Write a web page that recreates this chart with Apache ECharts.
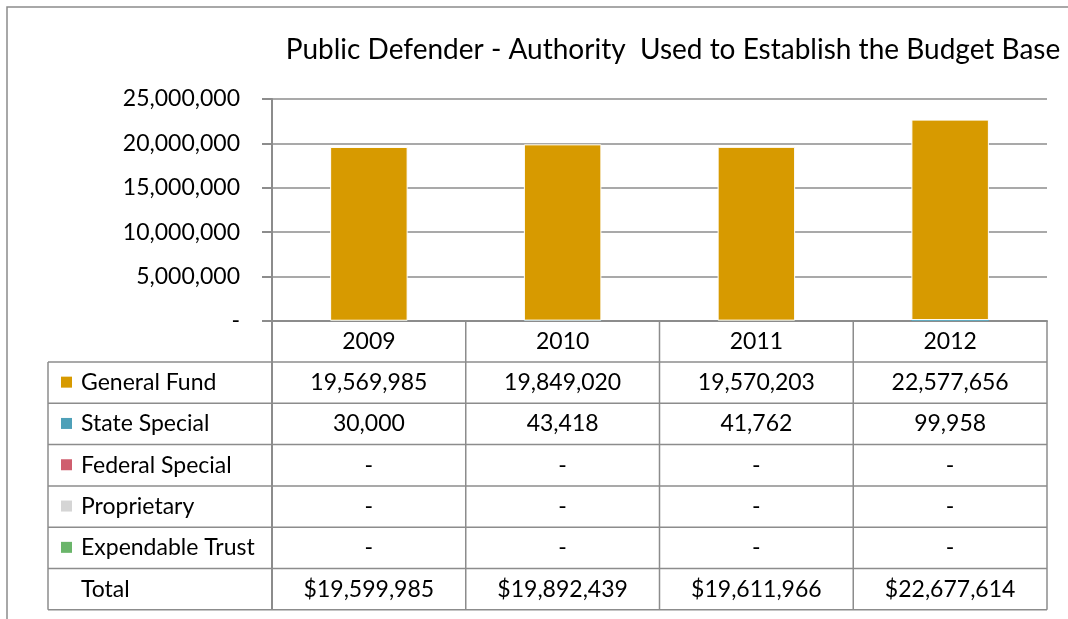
<!DOCTYPE html>
<html>
<head>
<meta charset="utf-8">
<title>Public Defender - Authority Used to Establish the Budget Base</title>
<script src="https://cdn.jsdelivr.net/npm/echarts@6/dist/echarts.min.js"></script>
<style>
  html, body { margin: 0; padding: 0; background: #ffffff; }
  #chart { width: 1068px; height: 619px; }
</style>
</head>
<body>
<div id="chart"></div>
<script>
// Fiscal years and funding sources
const categories = ['2009', '2010', '2011', '2012'];
const generalFund = [19569985, 19849020, 19570203, 22577656];
const stateSpecial = [30000, 43418, 41762, 99958];
const federalSpecial = [0, 0, 0, 0];
const proprietary = [0, 0, 0, 0];
const expendableTrust = [0, 0, 0, 0];
const totals = [19599985, 19892439, 19611966, 22677614];
const yTickValues = [0, 5000000, 10000000, 15000000, 20000000, 25000000];

const titleText = 'Public Defender - Authority  Used to Establish the Budget Base';
const FONT = 'Lato, "Open Sans", sans-serif';
const LINE = '#8c8c8c';
const TEXT_SIZE = 23;

const sources = [
  { name: 'General Fund', color: '#d79a00', values: generalFund },
  { name: 'State Special', color: '#4ea0b8', values: stateSpecial },
  { name: 'Federal Special', color: '#cf5e6e', values: federalSpecial },
  { name: 'Proprietary', color: '#d5d5d5', values: proprietary },
  { name: 'Expendable Trust', color: '#6ab56a', values: expendableTrust }
];

function withCommas(v) {
  const s = String(Math.round(Math.abs(v)));
  return s.replace(/\B(?=(\d{3})+(?!\d))/g, ',');
}
function cellText(v, prefix) {
  return v === 0 ? '-' : (prefix || '') + withCommas(v);
}

const chart = echarts.init(document.getElementById('chart'), null, { renderer: 'canvas' });

// State Special sits at the base of each column, General Fund above it
const stackOrder = [sources[1], sources[0], sources[2], sources[3], sources[4]];

chart.setOption({
  backgroundColor: '#ffffff',
  animation: false,
  grid: { left: 272, right: 21, top: 99, bottom: 298, containLabel: false },
  xAxis: {
    type: 'category',
    data: categories,
    axisLine: { show: true, lineStyle: { color: LINE, width: 2 } },
    axisTick: { show: false },
    axisLabel: {
      margin: 21,
      verticalAlign: 'middle',
      fontFamily: FONT,
      fontSize: TEXT_SIZE,
      color: '#000000'
    }
  },
  yAxis: {
    type: 'value',
    min: yTickValues[0],
    max: yTickValues[yTickValues.length - 1],
    interval: yTickValues[1] - yTickValues[0],
    axisLine: { show: true, lineStyle: { color: LINE, width: 2 } },
    axisTick: { show: true, length: 10, lineStyle: { color: LINE, width: 2 } },
    splitLine: { show: true, lineStyle: { color: LINE, width: 1.5 } },
    axisLabel: {
      margin: 32,
      fontFamily: FONT,
      fontSize: TEXT_SIZE,
      color: '#000000',
      formatter: v => cellText(v)
    }
  },
  series: stackOrder.map(s => ({
    name: s.name,
    type: 'bar',
    stack: 'budget',
    barWidth: '40%',
    data: s.values,
    itemStyle: {
      color: s.color,
      borderColor: '#ffffff',
      borderWidth: s.name === 'General Fund' ? 1 : 0
    }
  }))
});

// Data table under the plot, laid out from the category axis positions
const colCenters = categories.map(c => chart.convertToPixel({ xAxisIndex: 0 }, c));
const colW = colCenters[1] - colCenters[0];
const colLeft = colCenters[0] - colW / 2;
const colRight = colCenters[colCenters.length - 1] + colW / 2;
const tableTop = chart.convertToPixel({ yAxisIndex: 0 }, 0);
const headerH = 41;
const rowH = 41.3;
const labelLeft = 48;

const rows = sources.map(s => ({ name: s.name, color: s.color, values: s.values, prefix: '' }));
rows.push({ name: 'Total', color: null, values: totals, prefix: '$' });

const firstRowTop = tableTop + headerH;
const tableBottom = firstRowTop + rows.length * rowH;
const graphics = [];

// outer frame
graphics.push({
  type: 'rect', silent: true,
  shape: { x: 7, y: 7, width: 1100, height: 700 },
  style: { fill: 'none', stroke: LINE, lineWidth: 1.5 }
});

// chart title
graphics.push({
  type: 'text', silent: true,
  x: 673, y: 50,
  style: {
    text: titleText, fill: '#000000',
    font: '28px ' + FONT,
    textAlign: 'center', textVerticalAlign: 'middle'
  }
});

// horizontal rules
for (let i = 0; i <= rows.length; i++) {
  const y = firstRowTop + i * rowH;
  graphics.push({
    type: 'line', silent: true,
    shape: { x1: labelLeft, y1: y, x2: colRight, y2: y },
    style: { stroke: LINE, lineWidth: 1.5 }
  });
}
// vertical rules
graphics.push({
  type: 'line', silent: true,
  shape: { x1: labelLeft, y1: firstRowTop, x2: labelLeft, y2: tableBottom },
  style: { stroke: LINE, lineWidth: 1.5 }
});
for (let j = 0; j <= categories.length; j++) {
  const x = colLeft + j * colW;
  graphics.push({
    type: 'line', silent: true,
    shape: { x1: x, y1: tableTop, x2: x, y2: tableBottom },
    style: { stroke: LINE, lineWidth: j === 0 ? 2 : 1.5 }
  });
}

// row labels, legend keys and values
rows.forEach((r, i) => {
  const cy = firstRowTop + i * rowH + rowH / 2;
  if (r.color) {
    graphics.push({
      type: 'rect', silent: true,
      shape: { x: 61, y: cy - 6, width: 11, height: 11 },
      style: { fill: r.color }
    });
  }
  graphics.push({
    type: 'text', silent: true,
    x: 81, y: cy,
    style: {
      text: r.name, fill: '#000000', font: TEXT_SIZE + 'px ' + FONT,
      textAlign: 'left', textVerticalAlign: 'middle'
    }
  });
  r.values.forEach((v, j) => {
    graphics.push({
      type: 'text', silent: true,
      x: colCenters[j], y: cy,
      style: {
        text: cellText(v, r.prefix), fill: '#000000', font: TEXT_SIZE + 'px ' + FONT,
        textAlign: 'center', textVerticalAlign: 'middle'
      }
    });
  });
});

chart.setOption({ graphic: { elements: graphics } });
</script>
</body>
</html>
